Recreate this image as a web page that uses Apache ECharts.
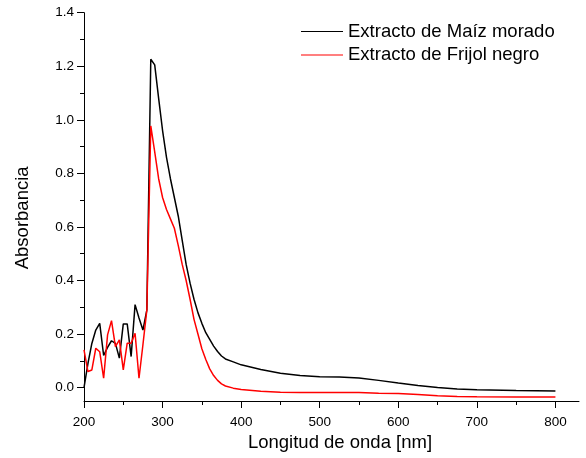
<!DOCTYPE html>
<html>
<head>
<meta charset="utf-8">
<script src="https://cdn.jsdelivr.net/npm/echarts@6/dist/echarts.min.js"></script>
<style>html,body{margin:0;padding:0;background:#fff}#c{width:586px;height:458px}</style>
</head>
<body>
<div id="c"></div>
<script>
// Wavelengths (nm)
var wavelengths = [200,205,210,215,220,225,230,235,240,245,250,255,260,265,270,275,280,285,290,295,300,305,310,315,320,325,330,335,340,345,350,355,360,365,370,375,380,390,400,425,450,475,500,525,550,575,600,625,650,675,700,750,800];
// Absorbance - Extracto de Maíz morado
var maiz = [0.00,0.09,0.165,0.215,0.24,0.12,0.15,0.175,0.165,0.11,0.238,0.238,0.116,0.31,0.26,0.215,0.29,1.226,1.205,1.08,0.96,0.86,0.78,0.71,0.64,0.55,0.46,0.39,0.33,0.28,0.24,0.205,0.18,0.155,0.135,0.118,0.107,0.096,0.085,0.068,0.054,0.045,0.041,0.040,0.036,0.027,0.017,0.008,0.0,-0.005,-0.008,-0.011,-0.013];
// Absorbance - Extracto de Frijol negro
var frijol = [0.141,0.06,0.066,0.147,0.134,0.035,0.197,0.25,0.153,0.178,0.066,0.166,0.166,0.203,0.035,0.16,0.29,0.977,0.88,0.78,0.71,0.665,0.63,0.595,0.53,0.46,0.40,0.33,0.255,0.20,0.145,0.105,0.07,0.045,0.027,0.014,0.006,-0.002,-0.007,-0.014,-0.017,-0.018,-0.018,-0.018,-0.018,-0.021,-0.022,-0.026,-0.03,-0.033,-0.034,-0.035,-0.035];
var seriesNames = ['Extracto de Maíz morado','Extracto de Frijol negro'];
var xTicks = [200,300,400,500,600,700,800];
var xMinorTicks = [250,350,450,550,650,750];
var yTicks = [0.0,0.2,0.4,0.6,0.8,1.0,1.2,1.4];
var yMinorTicks = [0.1,0.3,0.5,0.7,0.9,1.1,1.3];

function pairs(xs, ys){ return xs.map(function(x,i){ return [x, ys[i]]; }); }

var font = 'Liberation Sans, Arial, sans-serif';
var chart = echarts.init(document.getElementById('c'), null, {renderer:'canvas'});
chart.setOption({
  animation:false,
  grid:{left:84, right:7, top:12.7, bottom:57, containLabel:false},
  legend:{
    orient:'vertical', left:301, top:22, itemWidth:42, itemHeight:1.2, itemGap:4.5, padding:0,
    icon:'path://M0,0 L42,0 L42,1.2 L0,1.2 Z',
    textStyle:{fontFamily:font, fontSize:18.5, color:'#000'},
    data:seriesNames
  },
  xAxis:[{
    type:'value', min:200, max:830,
    name:'Longitud de onda [nm]', nameLocation:'middle', nameGap:31,
    nameTextStyle:{fontFamily:font, fontSize:18.5, color:'#000', padding:[0,0,0,17]},
    axisLine:{onZero:false, lineStyle:{color:'#000', width:1}},
    axisTick:{show:true, length:7, customValues:xTicks, lineStyle:{color:'#000'}},
    axisLabel:{customValues:xTicks, fontFamily:font, fontSize:13.5, color:'#000', margin:14},
    splitLine:{show:false}
  },{
    type:'value', min:200, max:830, position:'bottom',
    axisLine:{show:false, onZero:false},
    axisTick:{show:true, length:4, customValues:xMinorTicks, lineStyle:{color:'#000'}},
    axisLabel:{show:false}, splitLine:{show:false}
  }],
  yAxis:[{
    type:'value', min:-0.05, max:1.4,
    name:'Absorbancia', nameLocation:'middle', nameGap:52,
    nameTextStyle:{fontFamily:font, fontSize:18.5, color:'#000', padding:[0,22,0,0]},
    axisLine:{show:true, onZero:false, lineStyle:{color:'#000', width:1}},
    axisTick:{show:true, length:7, customValues:yTicks, lineStyle:{color:'#000'}},
    axisLabel:{customValues:yTicks, fontFamily:font, fontSize:13.5, color:'#000', margin:10,
      formatter:function(v){return v.toFixed(1);}},
    splitLine:{show:false}
  },{
    type:'value', min:-0.05, max:1.4, position:'left',
    axisLine:{show:false, onZero:false},
    axisTick:{show:true, length:4, customValues:yMinorTicks, lineStyle:{color:'#000'}},
    axisLabel:{show:false}, splitLine:{show:false}
  }],
  series:[{
    name:seriesNames[0], type:'line', data:pairs(wavelengths, maiz), symbol:'none',
    lineStyle:{color:'#000', width:1.5}, itemStyle:{color:'#000'}, z:2
  },{
    name:seriesNames[1], type:'line', data:pairs(wavelengths, frijol), symbol:'none',
    lineStyle:{color:'#ff0000', width:1.5}, itemStyle:{color:'#ff0000'}, z:3
  }]
});
</script>
</body>
</html>
